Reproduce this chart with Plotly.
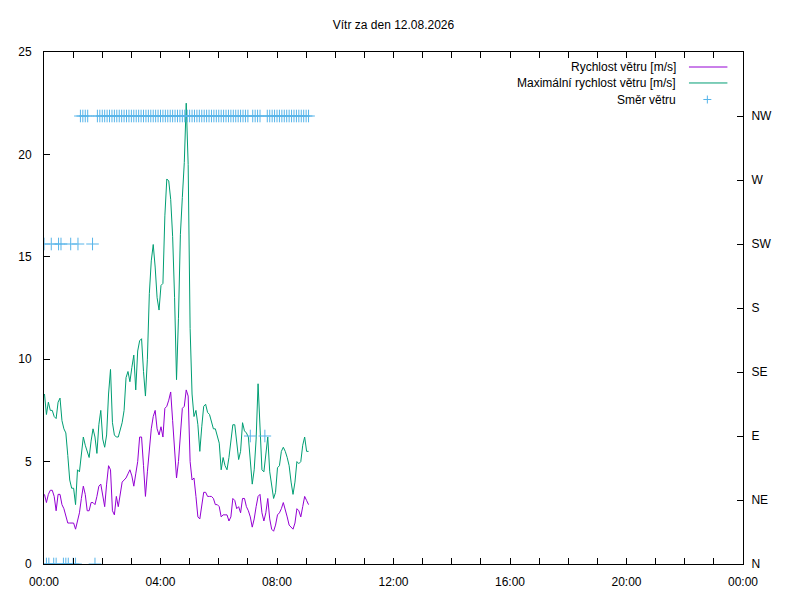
"""
Vitr za den - wind speed, gusts and direction (gnuplot-like look)
"""
import plotly.graph_objects as go

DAY = "2026-08-12"

# mean / max wind speed, every 4 minutes
speed_time = [
    "00:01", "00:05", "00:09", "00:13", "00:17", "00:21", "00:25", "00:29", "00:33", "00:37", "00:41", "00:45", "00:49", "00:53", "00:57",
    "01:01", "01:05", "01:09", "01:13", "01:17", "01:21", "01:25", "01:29", "01:33", "01:37", "01:41", "01:45", "01:49", "01:53", "01:57",
    "02:01", "02:05", "02:09", "02:13", "02:17", "02:21", "02:25", "02:29", "02:33", "02:37", "02:41", "02:45", "02:49", "02:53", "02:57",
    "03:01", "03:05", "03:09", "03:13", "03:17", "03:21", "03:25", "03:29", "03:33", "03:37", "03:41", "03:45", "03:49", "03:53", "03:57",
    "04:01", "04:05", "04:09", "04:13", "04:17", "04:21", "04:25", "04:29", "04:33", "04:37", "04:41", "04:45", "04:49", "04:53", "04:57",
    "05:01", "05:05", "05:09", "05:13", "05:17", "05:21", "05:25", "05:29", "05:33", "05:37", "05:41", "05:45", "05:49", "05:53", "05:57",
    "06:01", "06:05", "06:09", "06:13", "06:17", "06:21", "06:25", "06:29", "06:33", "06:37", "06:41", "06:45", "06:49", "06:53", "06:57",
    "07:01", "07:05", "07:09", "07:13", "07:17", "07:21", "07:25", "07:29", "07:33", "07:37", "07:41", "07:45", "07:49", "07:53", "07:57",
    "08:01", "08:05", "08:09", "08:13", "08:17", "08:21", "08:25", "08:29", "08:33", "08:37", "08:41", "08:45", "08:49", "08:53", "08:57",
    "09:01", "09:05",
]

speed_avg = [
    3.4, 3.0, 3.4, 3.6, 3.6, 3.3, 2.6, 3.4, 3.4, 2.9, 2.7, 2.4, 2.0, 2.0, 2.0,
    2.0, 1.7, 2.1, 2.5, 3.2, 3.8, 3.4, 2.6, 2.6, 3.0, 3.0, 2.9, 3.3, 3.8, 3.9,
    3.4, 2.8, 3.9, 4.8, 4.6, 2.6, 2.4, 3.3, 2.8, 3.4, 4.0, 4.1, 4.2, 4.4, 4.6,
    4.3, 3.8, 4.4, 5.0, 6.2, 6.2, 4.8, 3.3, 4.5, 5.6, 6.6, 7.2, 7.5, 6.6, 6.3,
    6.7, 6.2, 7.6, 7.7, 8.0, 8.4, 7.0, 5.6, 4.2, 5.0, 6.6, 7.6, 7.7, 8.5, 8.2,
    5.0, 4.1, 4.2, 3.3, 2.3, 2.2, 3.0, 3.5, 3.5, 3.3, 3.3, 3.3, 3.2, 2.9, 2.9,
    2.8, 2.3, 2.4, 2.4, 2.4, 2.1, 2.3, 3.2, 3.1, 2.7, 2.8, 2.5, 3.2, 3.2, 2.8,
    2.6, 2.3, 1.8, 2.2, 2.8, 3.3, 3.4, 2.5, 2.1, 2.5, 3.2, 2.2, 1.7, 1.6, 1.9,
    2.4, 2.5, 2.7, 3.0, 2.7, 2.3, 1.9, 1.8, 1.7, 2.0, 2.7, 2.6, 2.3, 2.8, 3.3,
    3.1, 2.9,
]

speed_max = [
    8.3, 7.3, 7.9, 7.5, 7.5, 7.2, 7.1, 7.9, 8.1, 7.0, 6.6, 6.4, 5.3, 4.1, 3.7,
    3.7, 2.9, 4.6, 4.5, 5.5, 6.2, 5.8, 5.5, 5.2, 6.0, 6.6, 6.2, 5.4, 6.8, 7.5,
    6.1, 5.7, 6.3, 8.3, 9.5, 6.9, 6.3, 6.2, 6.2, 6.6, 6.9, 7.5, 9.1, 9.4, 8.9,
    9.6, 10.2, 8.5, 10.4, 10.9, 11.0, 9.4, 8.2, 10.0, 13.2, 14.8, 15.6, 14.5, 13.0, 12.4,
    13.6, 13.7, 17.0, 18.8, 18.7, 17.8, 16.0, 13.0, 9.0, 12.0, 16.1, 17.9, 19.6, 22.5, 19.5,
    11.5, 8.3, 7.2, 7.5, 6.8, 5.5, 6.7, 7.7, 7.8, 7.4, 7.3, 6.9, 6.6, 6.6, 6.3,
    5.9, 4.6, 5.2, 4.8, 4.6, 5.2, 6.0, 6.8, 6.8, 5.9, 5.1, 5.5, 6.9, 6.5, 6.4,
    6.2, 4.9, 3.9, 4.6, 6.1, 8.8, 6.2, 4.6, 4.5, 5.5, 6.2, 4.5, 3.8, 3.2, 3.5,
    4.7, 4.8, 5.5, 5.7, 5.5, 5.2, 4.8, 4.0, 3.4, 4.0, 5.0, 4.9, 5.0, 5.8, 6.2,
    5.5, 5.5,
]

# wind direction, every 5 minutes (None = no reading)
dir_time = [
    "00:00", "00:05", "00:10", "00:15", "00:20", "00:25", "00:30", "00:35", "00:40", "00:45", "00:50", "00:55",
    "01:00", "01:05", "01:10", "01:15", "01:20", "01:25", "01:30", "01:35", "01:40", "01:45", "01:50", "01:55",
    "02:00", "02:05", "02:10", "02:15", "02:20", "02:25", "02:30", "02:35", "02:40", "02:45", "02:50", "02:55",
    "03:00", "03:05", "03:10", "03:15", "03:20", "03:25", "03:30", "03:35", "03:40", "03:45", "03:50", "03:55",
    "04:00", "04:05", "04:10", "04:15", "04:20", "04:25", "04:30", "04:35", "04:40", "04:45", "04:50", "04:55",
    "05:00", "05:05", "05:10", "05:15", "05:20", "05:25", "05:30", "05:35", "05:40", "05:45", "05:50", "05:55",
    "06:00", "06:05", "06:10", "06:15", "06:20", "06:25", "06:30", "06:35", "06:40", "06:45", "06:50", "06:55",
    "07:00", "07:05", "07:10", "07:15", "07:20", "07:25", "07:30", "07:35", "07:40", "07:45", "07:50", "07:55",
    "08:00", "08:05", "08:10", "08:15", "08:20", "08:25", "08:30", "08:35", "08:40", "08:45", "08:50", "08:55",
    "09:00", "09:05",
]

dir_label = [
    "SW", "N", "N", "SW", "N", "N", "SW", "SW", "N", "N", "N", "SW",
    "N", "N", "SW", "NW", "NW", "NW", "NW", None, "SW", "N", "NW", "NW",
    "NW", "NW", "NW", "NW", "NW", "NW", "NW", "NW", "NW", "NW", "NW", "NW",
    "NW", "NW", "NW", "NW", "NW", "NW", "NW", "NW", "NW", "NW", "NW", "NW",
    "NW", "NW", "NW", "NW", "NW", "NW", "NW", "NW", "NW", "NW", "NW", "NW",
    "NW", "NW", "NW", "NW", "NW", "NW", "NW", "NW", "NW", "NW", "NW", "NW",
    "NW", "NW", "NW", "NW", "NW", "NW", "NW", "NW", "NW", "NW", "NW", "NW",
    "NW", "E", "NW", "NW", "NW", "NW", None, "E", "NW", "NW", "NW", "NW",
    "NW", "NW", "NW", "NW", "NW", "NW", "NW", "NW", "NW", "NW", "NW", "NW",
    "NW", "NW",
]

compass = ["N", "NE", "E", "SE", "S", "SW", "W", "NW"]
compass_deg = [0, 45, 90, 135, 180, 225, 270, 315]

title = "Vítr za den 12.08.2026"
names = ["Rychlost větru [m/s]", "Maximální rychlost větru [m/s]", "Směr větru"]
colors = ["#9400d3", "#009e73", "#56b4e9"]

deg_of = dict(zip(compass, compass_deg))
dir_x = [f"{DAY} {t}" for t, d in zip(dir_time, dir_label) if d is not None]
dir_y = [deg_of[d] for d in dir_label if d is not None]
speed_x = [f"{DAY} {t}" for t in speed_time]

FONT = "Liberation Sans, Arial, sans-serif"

fig = go.Figure()
fig.add_trace(go.Scatter(x=speed_x, y=speed_avg, mode="lines", name=names[0],
                         line=dict(color=colors[0], width=1), showlegend=False))
fig.add_trace(go.Scatter(x=speed_x, y=speed_max, mode="lines", name=names[1],
                         line=dict(color=colors[1], width=1), showlegend=False))
fig.add_trace(go.Scatter(x=dir_x, y=dir_y, mode="markers", name=names[2], yaxis="y2",
                         marker=dict(symbol="cross-thin", size=9,
                                     line=dict(color=colors[2], width=1)),
                         showlegend=False))

# gnuplot style key: text right aligned, sample on the right
key_y = [0.9707, 0.9395, 0.9072]
for name, col, ky, i in zip(names, colors, key_y, range(3)):
    fig.add_annotation(text=name, xref="paper", yref="paper", x=0.9066, y=ky,
                       xanchor="right", yanchor="middle", showarrow=False,
                       font=dict(family=FONT, size=12, color="black"))
    if i < 2:
        fig.add_shape(type="line", xref="paper", yref="paper", x0=0.9227, x1=0.9777,
                      y0=ky, y1=ky, line=dict(color=col, width=1))
    else:
        fig.add_shape(type="line", xref="paper", yref="paper", x0=0.9433, x1=0.9547,
                      y0=ky, y1=ky, line=dict(color=col, width=1))
        fig.add_shape(type="line", xref="paper", yref="paper", x0=0.949, x1=0.949,
                      y0=ky - 0.0078, y1=ky + 0.0078, line=dict(color=col, width=1))

axis_common = dict(showline=True, linecolor="black", linewidth=1, showgrid=False,
                   zeroline=False, ticks="inside", ticklen=6, tickcolor="black",
                   tickfont=dict(family=FONT, size=12, color="black"))

fig.update_layout(
    width=800, height=600,
    margin=dict(l=44, r=57, t=52, b=36),
    paper_bgcolor="white", plot_bgcolor="white",
    font=dict(family=FONT, size=12, color="black"),
    title=dict(text=title, x=0.5, xref="paper", xanchor="center",
               y=1 - 25 / 600, yanchor="middle",
               font=dict(family=FONT, size=12, color="black")),
    xaxis=dict(type="date", range=[f"{DAY} 00:00", "2026-08-13 00:00"],
               tickformat="%H:%M", dtick=4 * 3600000, tick0=f"{DAY} 00:00",
               mirror="allticks",
               minor=dict(dtick=3600000, ticks="inside", ticklen=3, tickcolor="black",
                          showgrid=False),
               ticklabelstandoff=7,
               **axis_common),
    yaxis=dict(range=[0, 25], dtick=5, ticklabelstandoff=9, **axis_common),
    yaxis2=dict(overlaying="y", side="right", range=[0, 360],
                tickvals=compass_deg, ticktext=compass, ticklabelstandoff=5,
                **axis_common),
)

# drop the default 8px body margin so the figure sits at the page corner
fig.write_html("out.html", config={"displayModeBar": False},
               post_script="document.body.style.margin='0px';")
